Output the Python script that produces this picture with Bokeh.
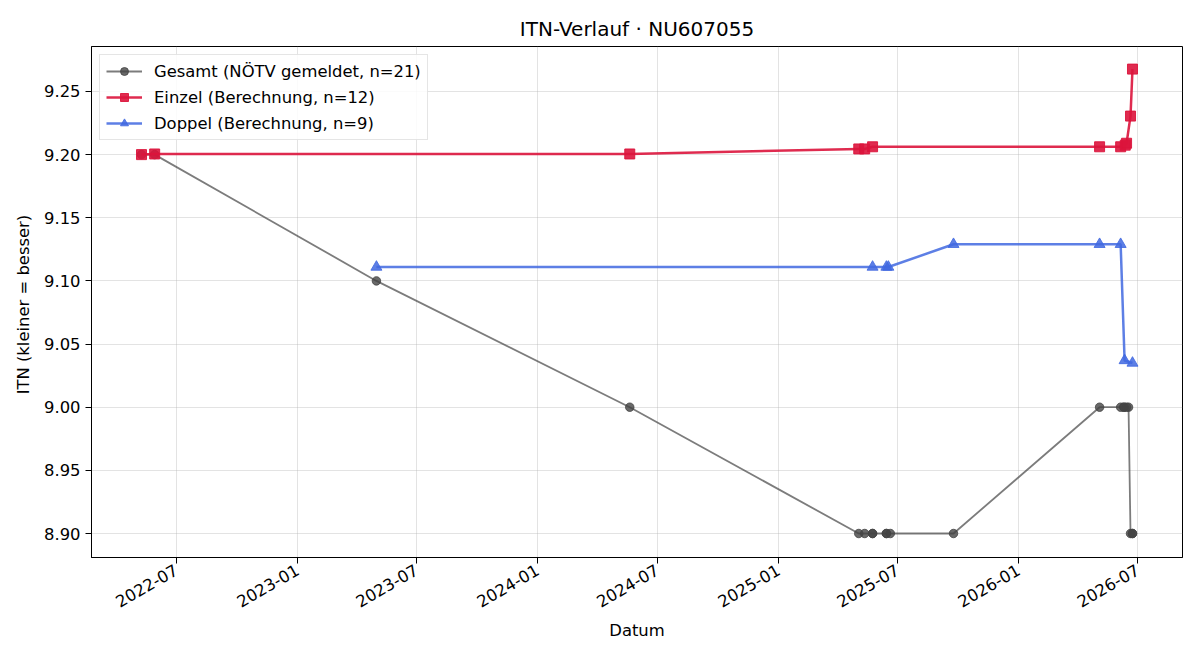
import pandas as pd
from bokeh.plotting import figure
from bokeh.models import (Range1d, FixedTicker, DatetimeTickFormatter,
                          PrintfTickFormatter, Legend, LegendItem)
from bokeh.embed import file_html
from bokeh.resources import INLINE
import math

# --- data -------------------------------------------------------------
gesamt_dates = ["2022-05-09", "2022-05-29", "2023-05-01", "2024-05-20",
                "2025-05-03", "2025-05-12", "2025-05-24", "2025-05-24",
                "2025-06-14", "2025-06-14", "2025-06-20", "2025-09-24",
                "2026-05-04", "2026-06-05", "2026-06-10", "2026-06-10",
                "2026-06-14", "2026-06-17", "2026-06-20", "2026-06-23",
                "2026-06-23"]
gesamt_itn = [9.20, 9.20, 9.10, 9.00,
              8.90, 8.90, 8.90, 8.90,
              8.90, 8.90, 8.90, 8.90,
              9.00, 9.00, 9.00, 9.00,
              9.00, 9.00, 8.90, 8.90,
              8.90]

einzel_dates = ["2022-05-09", "2022-05-29", "2024-05-20", "2025-05-03",
                "2025-05-12", "2025-05-24", "2026-05-04", "2026-06-05",
                "2026-06-12", "2026-06-14", "2026-06-20", "2026-06-23"]
einzel_itn = [9.200, 9.2005, 9.2005, 9.2045,
              9.2045, 9.2062, 9.2062, 9.2062,
              9.2075, 9.2090, 9.2305, 9.2677]

doppel_dates = ["2023-05-01", "2025-05-24", "2025-06-14", "2025-06-17",
                "2025-09-24", "2026-05-04", "2026-06-05", "2026-06-11",
                "2026-06-23"]
doppel_itn = [9.111, 9.111, 9.111, 9.111,
              9.129, 9.129, 9.129, 9.037,
              9.035]

tick_months = ["2022-07-01", "2023-01-01", "2023-07-01", "2024-01-01",
               "2024-07-01", "2025-01-01", "2025-07-01", "2026-01-01",
               "2026-07-01"]
y_ticks = [8.90, 8.95, 9.00, 9.05, 9.10, 9.15, 9.20, 9.25]

# --- figure -----------------------------------------------------------
FONT = "DejaVu Sans"
TXT = "16.4px"

def ms(s):
    return pd.Timestamp(s).value / 1e6

p = figure(width=1200, height=660, x_axis_type="datetime",
           output_backend="svg", toolbar_location=None,
           x_range=Range1d(ms("2022-02-22"), ms("2026-09-07")),
           y_range=Range1d(8.881, 9.2856),
           min_border_left=91, min_border_right=18,
           min_border_top=46, min_border_bottom=103)

p.title.text = "ITN-Verlauf · NU607055"
p.title.align = "center"
p.title.text_font = FONT
p.title.text_font_style = "normal"
p.title.text_font_size = "20px"
p.title.text_color = "#000000"
p.title.offset = 0
p.title.standoff = 12

p.outline_line_color = "#000000"
p.outline_line_width = 1
p.background_fill_color = "white"
p.border_fill_color = "white"

for ax in (p.xaxis[0], p.yaxis[0]):
    ax.axis_line_color = "#000000"
    ax.major_tick_line_color = "#000000"
    ax.major_tick_out = 6
    ax.major_tick_in = 0
    ax.minor_tick_line_color = None
    ax.major_label_text_font = FONT
    ax.major_label_text_font_size = TXT
    ax.major_label_text_color = "#000000"
    ax.major_label_standoff = 5
    ax.axis_label_text_font = FONT
    ax.axis_label_text_font_size = TXT
    ax.axis_label_text_font_style = "normal"
    ax.axis_label_text_color = "#000000"

p.xaxis.ticker = FixedTicker(ticks=[ms(d) for d in tick_months])
fmt = "%Y-%m"
p.xaxis.formatter = DatetimeTickFormatter(
    microseconds=fmt, milliseconds=fmt, seconds=fmt, minsec=fmt,
    minutes=fmt, hourmin=fmt, hours=fmt, days=fmt, months=fmt, years=fmt)
p.xaxis.major_label_orientation = math.pi / 6
p.xaxis.axis_label = "Datum"

p.yaxis.ticker = FixedTicker(ticks=y_ticks)
p.yaxis.formatter = PrintfTickFormatter(format="%.2f")
p.yaxis.axis_label = "ITN  (kleiner = besser)"
p.yaxis.axis_label_standoff = 8

p.grid.grid_line_color = "#b0b0b0"
p.grid.grid_line_alpha = 0.35
p.grid.grid_line_width = 1

# --- series -----------------------------------------------------------
gx = pd.to_datetime(gesamt_dates)
ex = pd.to_datetime(einzel_dates)
dx = pd.to_datetime(doppel_dates)

g_line = p.line(gx, gesamt_itn, line_color="#444444", line_alpha=0.7,
                line_width=1.8)
g_pts = p.scatter(gx, gesamt_itn, marker="circle", size=8.5,
                  fill_color="#444444", fill_alpha=0.8,
                  line_color="#444444", line_alpha=0.8)

e_line = p.line(ex, einzel_itn, line_color="#DC143C", line_alpha=0.9,
                line_width=2.5)
e_pts = p.scatter(ex, einzel_itn, marker="square", size=10,
                  fill_color="#DC143C", fill_alpha=0.9,
                  line_color="#DC143C", line_alpha=0.9)

d_line = p.line(dx, doppel_itn, line_color="#4169E1", line_alpha=0.85,
                line_width=2.5)
d_pts = p.scatter(dx, doppel_itn, marker="triangle", size=11,
                  fill_color="#4169E1", fill_alpha=0.85,
                  line_color="#4169E1", line_alpha=0.85)

legend = Legend(items=[
    LegendItem(label="Gesamt (NÖTV gemeldet, n=21)", renderers=[g_line, g_pts]),
    LegendItem(label="Einzel (Berechnung, n=12)", renderers=[e_line, e_pts]),
    LegendItem(label="Doppel (Berechnung, n=9)", renderers=[d_line, d_pts]),
], location="top_left")
legend.margin = 8
legend.padding = 6
legend.spacing = 6
legend.glyph_width = 36
legend.glyph_height = 20
legend.label_height = 20
legend.label_standoff = 12
legend.label_text_font = FONT
legend.label_text_font_size = TXT
legend.label_text_color = "#000000"
legend.border_line_color = "#cccccc"
legend.border_line_width = 1
legend.background_fill_alpha = 0.85
p.add_layout(legend)

open("out.html", "w").write(file_html(p, INLINE))
